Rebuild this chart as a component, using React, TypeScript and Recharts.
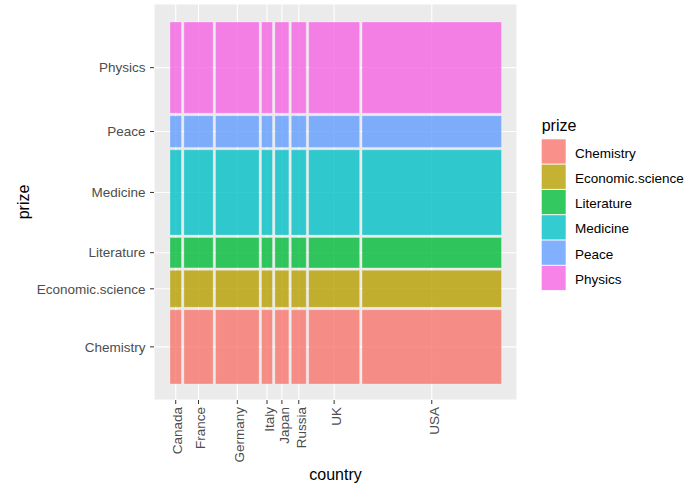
import {
  CartesianGrid,
  ComposedChart,
  Legend,
  ReferenceArea,
  Scatter,
  XAxis,
  YAxis,
} from "recharts";

const FONT = '"Liberation Sans", Arial, sans-serif';

const countries = ["Canada", "France", "Germany", "Italy", "Japan", "Russia", "UK", "USA"];
const countryShare = [11.5, 29.3, 43.6, 11.0, 14.0, 15.0, 51.0, 139.6];

const prizes = ["Chemistry", "Economic.science", "Literature", "Medicine", "Peace", "Physics"];
const prizeShare = [74.3, 37.0, 30.4, 85.3, 31.7, 91.3];
const prizeColors = ["#F8766D", "#B79F00", "#00BA38", "#00BFC4", "#619CFF", "#F564E3"];

// spacing between mosaic tiles, same units as the shares
const GAP = 2.4;

function starts(sizes: number[]) {
  const out: number[] = [];
  let acc = 0;
  sizes.forEach((s) => {
    out.push(acc);
    acc += s + GAP;
  });
  return out;
}

const xStart = starts(countryShare);
const yStart = starts(prizeShare);
const xCenters = countryShare.map((w, i) => xStart[i] + w / 2);
const yCenters = prizeShare.map((h, i) => yStart[i] + h / 2);

const tiles = countries.flatMap((c, i) =>
  prizes.map((p, j) => ({
    country: c,
    prize: p,
    x1: xStart[i],
    x2: xStart[i] + countryShare[i],
    y1: yStart[j],
    y2: yStart[j] + prizeShare[j],
    cx: xCenters[i],
    cy: yCenters[j],
    color: prizeColors[j],
  }))
);

function CountryTick(props: any) {
  const { x, y, index } = props;
  return (
    <text
      x={x}
      y={y}
      dy="0.5em"
      transform={`rotate(-90, ${x}, ${y})`}
      textAnchor="end"
      fontSize={13.5}
      fill="#4D4D4D"
      fontFamily={FONT}
    >
      {countries[index]}
    </text>
  );
}

function PrizeLegend() {
  return (
    <svg width={160} height={190} style={{ fontFamily: FONT }}>
      <text x={5.7} y={21} fontSize={16} fill="#000">
        prize
      </text>
      {prizes.map((p, i) => (
        <g key={p}>
          <rect
            x={5.7}
            y={29.3 + i * 25.3}
            width={24}
            height={24.3}
            fill={prizeColors[i]}
            fillOpacity={0.8}
          />
          <text x={39} y={29.3 + i * 25.3 + 13.5} dy="0.35em" fontSize={13.5} fill="#000">
            {p}
          </text>
        </g>
      ))}
    </svg>
  );
}

export default function App() {
  return (
    <div style={{ position: "absolute", left: 0, top: 0, fontFamily: FONT }}>
      <ComposedChart
        width={692}
        height={484}
        margin={{ top: 4, right: 175, bottom: 0, left: 0 }}
        style={{ fontFamily: FONT }}
      >
        <CartesianGrid fill="#EBEBEB" stroke="#FFFFFF" strokeWidth={1.1} />
        <XAxis
          type="number"
          dataKey="cx"
          domain={[-16, 347.3]}
          ticks={xCenters}
          interval={0}
          height={84}
          axisLine={false}
          tickSize={4}
          tickMargin={3}
          tickLine={{ stroke: "#333333" }}
          tick={<CountryTick />}
          label={{ value: "country", position: "insideBottom", offset: 4, fontSize: 16, fill: "#000" }}
        />
        <YAxis
          type="number"
          dataKey="cy"
          domain={[-16, 380]}
          ticks={yCenters}
          interval={0}
          width={154}
          axisLine={false}
          tickSize={4}
          tickMargin={4.5}
          tickLine={{ stroke: "#333333" }}
          tick={{ fontSize: 13.5, fill: "#4D4D4D" }}
          tickFormatter={(_v: number, i: number) => prizes[i]}
          label={({ viewBox }: any) => (
            <text
              x={29}
              y={viewBox.y + viewBox.height / 2}
              transform={`rotate(-90, 29, ${viewBox.y + viewBox.height / 2})`}
              textAnchor="middle"
              fontSize={16}
              fill="#000"
            >
              prize
            </text>
          )}
        />
        {tiles.map((t) => (
          <ReferenceArea
            key={t.country + t.prize}
            x1={t.x1}
            x2={t.x2}
            y1={t.y1}
            y2={t.y2}
            fill={t.color}
            fillOpacity={0.8}
            stroke="#FFFFFF"
            strokeOpacity={0.35}
            strokeWidth={0.8}
          />
        ))}
        <Scatter data={tiles} isAnimationActive={false} shape={() => <g />} legendType="none" />
        <Legend
          layout="horizontal"
          verticalAlign="middle"
          align="center"
          content={() => <PrizeLegend />}
          wrapperStyle={{ left: 536, top: 110, width: 160, height: 190 }}
        />
      </ComposedChart>
    </div>
  );
}
